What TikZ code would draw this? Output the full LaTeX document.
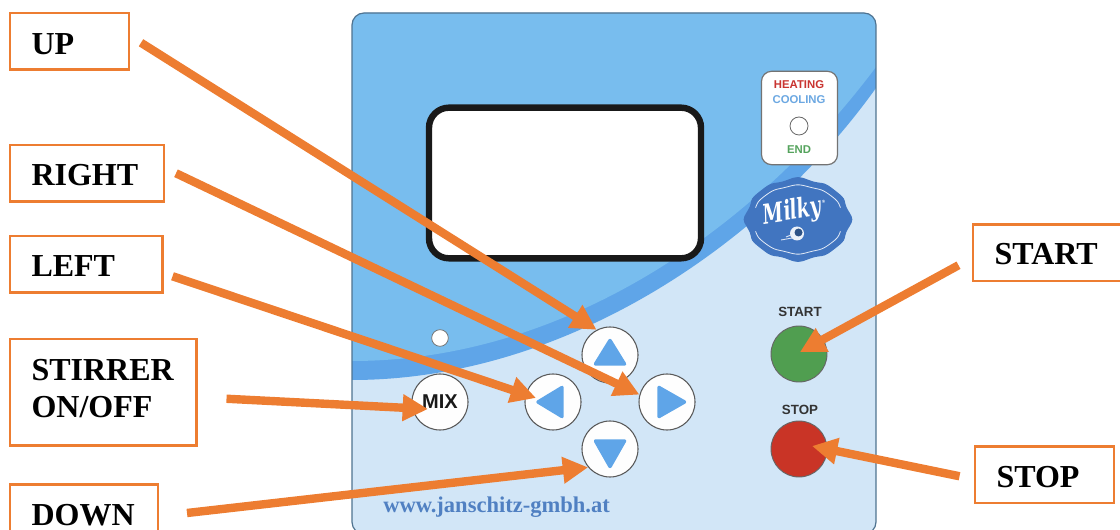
\documentclass[tikz,border=0pt]{standalone}
\usepackage{fontspec}
\usepackage{graphicx}
\setmainfont{Liberation Serif}
\newfontfamily\lsans{Liberation Sans}
\newfontfamily\badgefont{DejaVu Serif}
\usetikzlibrary{arrows.meta,calc}
\definecolor{orng}{HTML}{ED7D31}
\definecolor{sky}{HTML}{78BDEE}
\definecolor{band}{HTML}{5FA5E8}
\definecolor{pale}{HTML}{D2E6F7}
\definecolor{milkyblue}{HTML}{4175C0}
\definecolor{urlblue}{HTML}{5080C2}
\definecolor{edgec}{HTML}{4F7390}
\tikzset{
  lbl/.style n args={4}{draw=orng,fill=white,line width=1.6pt,inner sep=0pt,outer sep=0pt,anchor=north west,
    align=left,font=\bfseries\fontsize{24}{27.75}\selectfont,text=black,
    inner xsep={#4*.75pt},text width={(#1-2*#4)*.75pt},text height={#3*.75pt},text depth={(#2-#3)*.75pt}},
  btn/.style={circle,draw=black!65,fill=white!99!gray,line width=.8pt,minimum size=42pt,inner sep=0pt},
  lamp/.style={circle,draw=black!60,line width=.7pt,minimum size=42pt,inner sep=0pt},
  tri/.style={fill=band,draw=band,line width=2.6pt,line join=round},
  ptr/.style={draw=orng,line width=6.3pt,-{Triangle[length=19pt,width=19pt]}},
  sm/.style={font=\lsans\bfseries\fontsize{8.5}{10}\selectfont,anchor=base,inner sep=0pt},
}
\begin{document}
\begin{tikzpicture}[x=.75pt,y=-.75pt]
\path[use as bounding box] (0,0) rectangle (1120,530);
\clip (0,0) rectangle (1120,530);
% panel
\begin{scope}
\clip[rounded corners=9pt] (352,13) rectangle (876,534);
\fill[pale] (352,13) rectangle (876,534);
\fill[band] (352,13) -- (352,380) .. controls (560,380) and (760,250) .. (876,88) -- (876,13) -- cycle;
\fill[sky] (352,13) -- (352,361) .. controls (560,361) and (750,235) .. (876,67) -- (876,13) -- cycle;
\end{scope}
\draw[edgec,line width=.9pt,rounded corners=9pt] (352,13) rectangle (876,534);
% display
\node[draw=black!90,fill=white,line width=4.8pt,rounded corners=15pt,minimum width=204pt,minimum height=113pt,inner sep=0pt] (display) at (565,183) {};
% indicator
\node[draw=black!55,fill=white,line width=.9pt,rounded corners=7.5pt,minimum width=57pt,minimum height=70pt,inner sep=0pt] (indicator) at (799.5,118) {};
\node[sm,text={rgb,255:red,201;green,52;blue,48}] (heating) at (799,89) {HEATING};
\node[sm,text={rgb,255:red,108;green,168;blue,226}] (cooling) at (799,104) {COOLING};
\node[circle,draw=black!60,fill=white,line width=.6pt,minimum size=13.5pt,inner sep=0pt] (led) at (799,126) {};
\node[sm,text={rgb,255:red,84;green,163;blue,92}] (endtxt) at (799,154) {END};
% badge
\fill[milkyblue] plot[smooth cycle,samples=80,domain=0:355.5,variable=\t]
  ({798+52.5*(1+.035*cos(10*\t))*cos(\t)},{219.5+41*(1-.035*cos(10*\t))*sin(\t)});
\draw[white!85!milkyblue,line width=.6pt] plot[smooth,samples=40,domain=200:340,variable=\t]
  ({798+46*(1+.02*cos(10*\t))*cos(\t)},{219.5+34*(1-.02*cos(10*\t))*sin(\t)});
\draw[white!85!milkyblue,line width=.6pt] plot[smooth,samples=40,domain=20:160,variable=\t]
  ({798+46*(1+.02*cos(10*\t))*cos(\t)},{219.5+34*(1-.02*cos(10*\t))*sin(\t)});
\node[text=white,inner sep=0pt,rotate=9,font=\badgefont\bfseries\itshape\fontsize{17}{20}\selectfont] (milky) at (795,212) {\scalebox{.82}[1.2]{Milky}\hspace{1pt}\raisebox{9pt}{\fontsize{3}{4}\selectfont ®}};
\fill[white!90!milkyblue] (797,233.5) circle[radius=7];
\fill[milkyblue!70!black] (798.5,232.5) circle[radius=4];
\draw[white!80!milkyblue,line width=.7pt] (781,240) -- (792,238) (786,237) -- (791,235);
% buttons
\node[btn] (btnup) at (610,355) {};
\node[btn] (btnleft) at (553,402) {};
\node[btn] (btnright) at (667,402) {};
\node[btn] (btndown) at (610,449) {};
\node[btn,text=black!90,font=\lsans\bfseries\fontsize{15}{17}\selectfont] (btnmix) at (440,402) {MIX};
\node[circle,draw=black!55,fill=white,line width=.6pt,minimum size=12.5pt,inner sep=0pt] (pilot) at (440,338) {};
\path[tri] ([shift={(0,-14.5)}]btnup.center) -- ([shift={(-14.5,9)}]btnup.center) -- ([shift={(14.5,9)}]btnup.center) -- cycle;
\path[tri] ([shift={(0,17.5)}]btndown.center) -- ([shift={(-14.5,-8)}]btndown.center) -- ([shift={(14.5,-8)}]btndown.center) -- cycle;
\path[tri] ([shift={(-15,0)}]btnleft.center) -- ([shift={(9,-14.5)}]btnleft.center) -- ([shift={(9,14.5)}]btnleft.center) -- cycle;
\path[tri] ([shift={(17.5,0)}]btnright.center) -- ([shift={(-8,-14.5)}]btnright.center) -- ([shift={(-8,14.5)}]btnright.center) -- cycle;
% start / stop
\node[lamp,fill={rgb,255:red,80;green,158;blue,80}] (lampstart) at (799,354) {};
\node[lamp,fill={rgb,255:red,201;green,52;blue,38}] (lampstop) at (799,449) {};
\node[sm,text=black!80,font=\lsans\bfseries\fontsize{10}{12}\selectfont] (starttxt) at (800,317) {START};
\node[sm,text=black!80,font=\lsans\bfseries\fontsize{10}{12}\selectfont] (stoptxt) at (800,414.5) {STOP};
% url
\node[anchor=base west,inner sep=0pt,text=urlblue,font=\bfseries\fontsize{16.9}{18}\selectfont] (url) at (383,512) {www.janschitz-gmbh.at};
% label boxes
\node[lbl={119}{56.5}{41.5}{21.5}] (lup) at (10,13) {UP};
\node[lbl={154}{56.5}{41}{21.5}] (lright) at (10,145) {RIGHT};
\node[lbl={152.5}{56.5}{41}{21.5}] (lleft) at (10,236) {LEFT};
\node[lbl={186.5}{106.5}{41.5}{21.5}] (lstir) at (10,339) {STIRRER\\ON/OFF};
\node[lbl={148}{57}{40.5}{21.5}] (ldown) at (10,484.5) {DOWN};
\node[lbl={160}{56.5}{40.5}{21.5}] (lstart) at (973,224.5) {START};
\node[lbl={139}{56.5}{40.5}{21.5}] (lstop) at (975,446.5) {STOP};
% free ends
\coordinate (tup) at ([shift={(12,1.5)}]lup.east);
\coordinate (tright) at ([shift={(12,0)}]lright.east);
\coordinate (tleft) at ([shift={(10,12)}]lleft.east);
\coordinate (tstir) at ([shift={(30,6.5)}]lstir.east);
\coordinate (tdown) at ([shift={(29,0)}]ldown.east);
\coordinate (tstart) at ([shift={(-14.5,12.5)}]lstart.west);
\coordinate (tstop) at ([shift={(-15.5,1.5)}]lstop.west);
\coordinate (hleft) at ([shift={(-17,-4)}]btnleft.center);
\coordinate (hmix) at ([shift={(-12,7)}]btnmix.center);
\coordinate (hstart) at ([shift={(1,-2)}]lampstart.center);
\coordinate (hstop) at ([shift={(13,-3)}]lampstop.center);
% pointers
\draw[ptr] (tup) -- (btnup.118);
\draw[ptr] (tright) -- (btnright.165);
\draw[ptr] (tleft) -- (hleft);
\draw[ptr] (tstir) -- (hmix);
\draw[ptr] (tdown) -- (btndown.220);
\draw[ptr] (tstart) -- (hstart);
\draw[ptr] (tstop) -- (hstop);
\end{tikzpicture}
\end{document}
